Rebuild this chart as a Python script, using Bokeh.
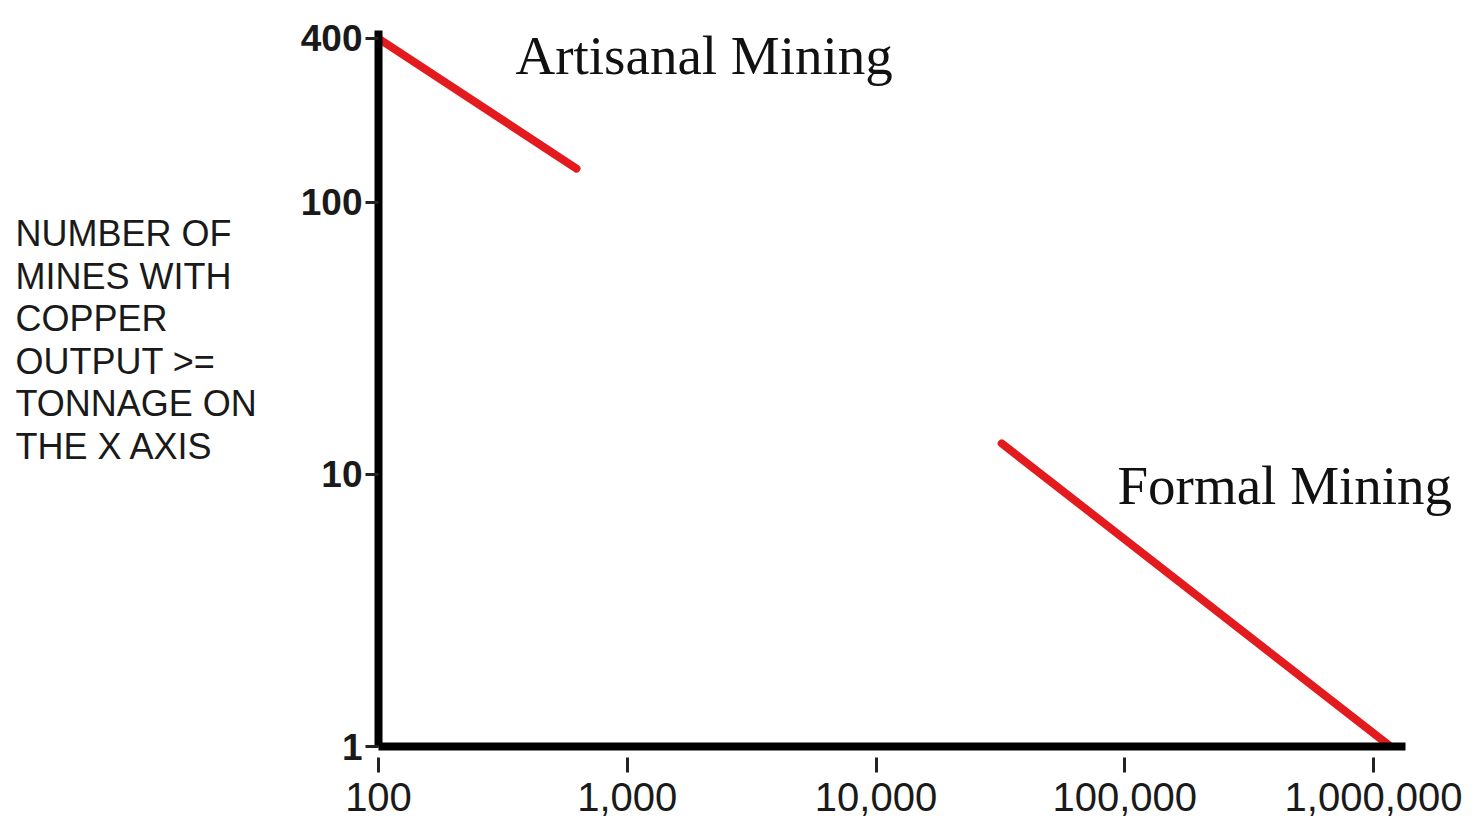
from bokeh.plotting import figure
from bokeh.layouts import row
from bokeh.models import FixedTicker, NumeralTickFormatter, Label, Range1d
from bokeh.embed import file_html
from bokeh.resources import INLINE

# Data (log-log)
artisanal_tonnage = [100, 625]
artisanal_mines = [400, 133]
formal_tonnage = [32000, 1170000]
formal_mines = [13, 1]

x_ticks = [100, 1000, 10000, 100000, 1000000]
y_ticks = [1, 10, 100, 400]
y_title_lines = ["NUMBER OF", "MINES WITH", "COPPER", "OUTPUT >=", "TONNAGE ON", "THE X AXIS"]
series_names = ["Artisanal Mining", "Formal Mining"]

H = 827
LEFT_W = 280

# Left panel holding the horizontal y-axis title
side = figure(width=LEFT_W, height=H, x_range=Range1d(0, 1), y_range=Range1d(0, 1),
              output_backend="svg", toolbar_location=None, title=None,
              min_border_left=0, min_border_right=0, min_border_top=0, min_border_bottom=0)
side.axis.visible = False
side.grid.visible = False
side.outline_line_color = None
side.background_fill_color = "white"
side.border_fill_color = "white"
for i, line in enumerate(y_title_lines):
    side.add_layout(Label(x=15, y=513 - i * 42.5, x_units="screen", y_units="screen",
                          text=line, text_font="Liberation Sans", text_font_size="36px",
                          text_color="#1a1a1a", text_baseline="alphabetic", text_align="left"))

# Main plot
p = figure(width=1479 - LEFT_W, height=H, x_axis_type="log", y_axis_type="log",
           x_range=Range1d(100, 2667000), y_range=Range1d(1, 551.6),
           output_backend="svg", toolbar_location=None, title=None,
           min_border_left=378 - LEFT_W, min_border_right=0, min_border_top=0, min_border_bottom=81)

p.background_fill_color = "white"
p.border_fill_color = "white"
p.outline_line_color = None
p.grid.visible = False

red = "#e31b1e"
p.line(artisanal_tonnage, artisanal_mines, line_color=red, line_width=8, line_cap="round")
p.line(formal_tonnage, formal_mines, line_color=red, line_width=8, line_cap="round")

# X axis
xa = p.xaxis[0]
xa.bounds = (100, 1345000)
xa.ticker = FixedTicker(ticks=x_ticks)
xa.formatter = NumeralTickFormatter(format="0,0")
xa.axis_line_width = 8
xa.axis_line_color = "black"
xa.major_tick_line_width = 3
xa.major_tick_line_color = "#222222"
xa.major_tick_in = -11
xa.major_tick_out = 26
xa.minor_tick_line_color = None
xa.major_label_standoff = 10
xa.major_label_text_font = "Liberation Sans"
xa.major_label_text_font_size = "40px"
xa.major_label_text_color = "#1a1a1a"

# Y axis
ya = p.yaxis[0]
ya.bounds = (1, 428)
ya.ticker = FixedTicker(ticks=y_ticks)
ya.formatter = NumeralTickFormatter(format="0,0")
ya.axis_line_width = 8
ya.axis_line_color = "black"
ya.major_tick_line_width = 3
ya.major_tick_line_color = "#222222"
ya.major_tick_in = 0
ya.major_tick_out = 13
ya.minor_tick_line_color = None
ya.major_label_standoff = 3
ya.major_label_text_font = "Liberation Sans"
ya.major_label_text_font_style = "bold"
ya.major_label_text_font_size = "37px"
ya.major_label_text_color = "#1a1a1a"

# Series annotations
p.add_layout(Label(x=137, y=691, x_units="screen", y_units="screen",
                   text=series_names[0], text_font="Liberation Serif", text_font_size="55px",
                   text_color="#111111", text_baseline="alphabetic"))
p.add_layout(Label(x=739, y=261, x_units="screen", y_units="screen",
                   text=series_names[1], text_font="Liberation Serif", text_font_size="55px",
                   text_color="#111111", text_baseline="alphabetic"))

layout = row(side, p, spacing=0)
open("out.html", "w").write(file_html(layout, INLINE))
